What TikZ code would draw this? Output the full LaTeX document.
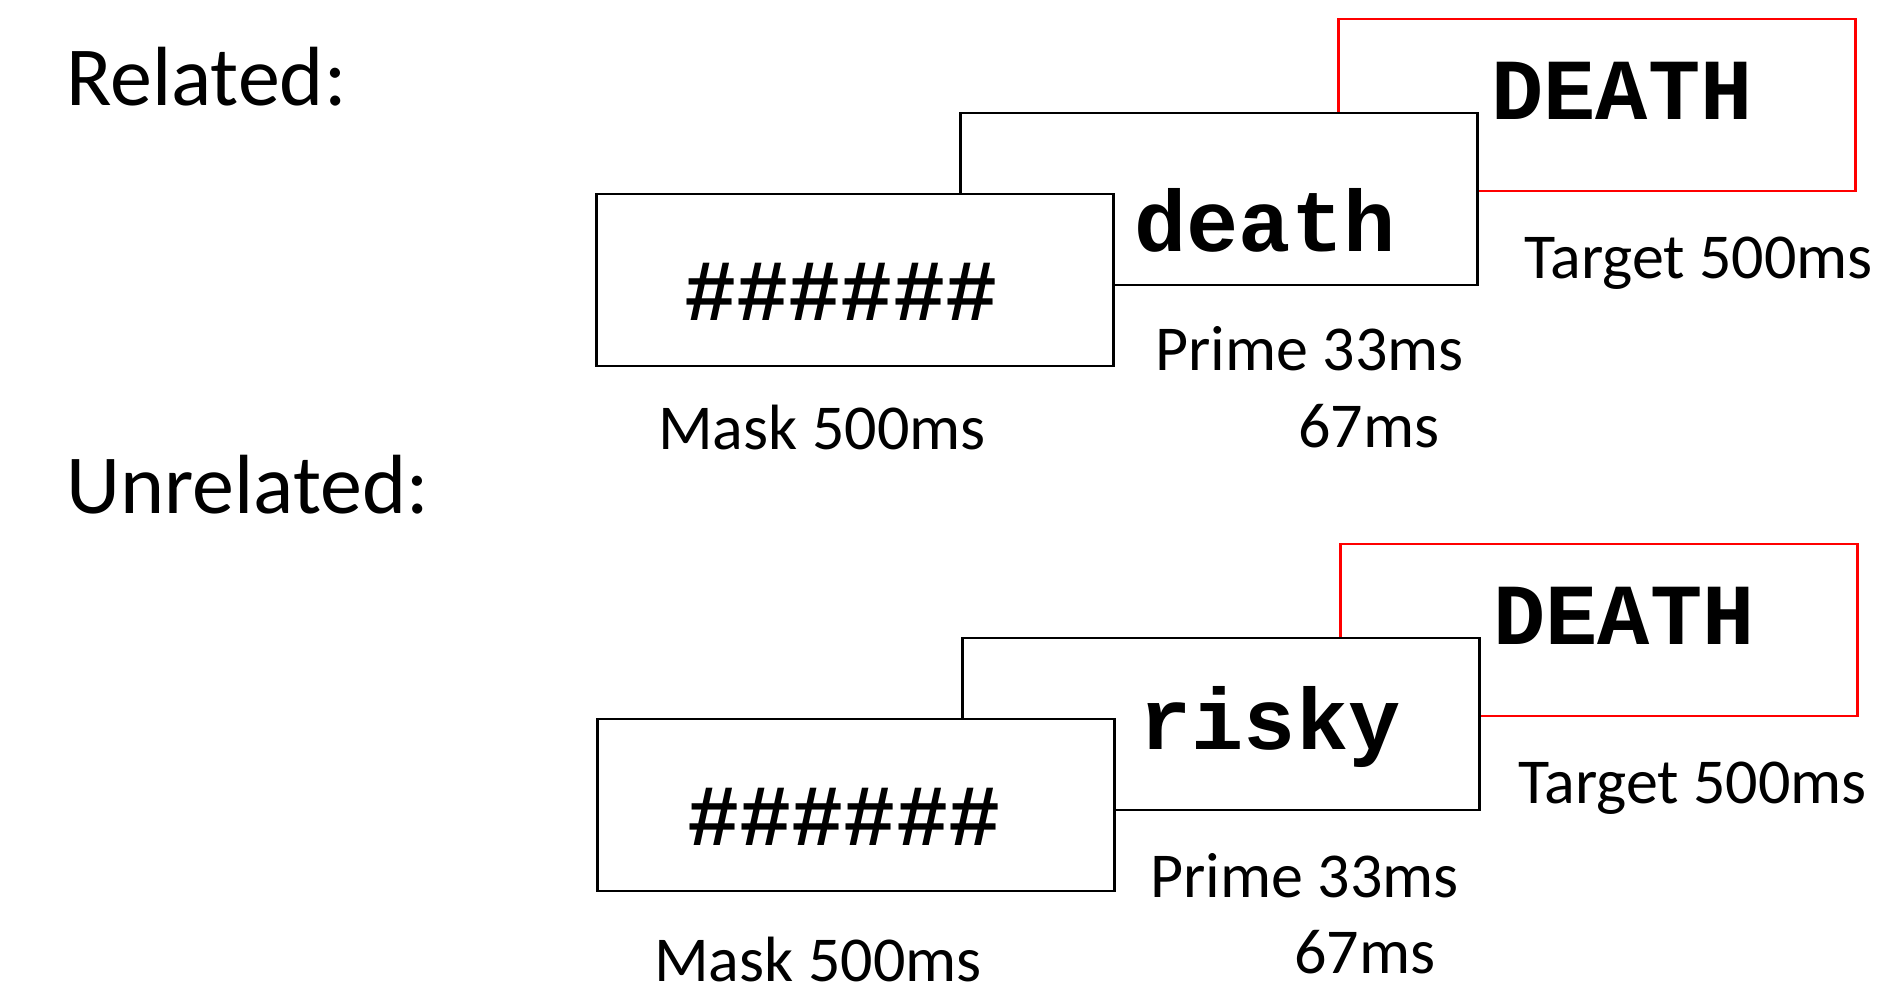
\documentclass[tikz,border=0pt]{standalone}
\usepackage{fontspec}
\setmainfont{Carlito}
\newfontfamily\courbold{Liberation Mono}
\begin{document}
\begin{tikzpicture}[x=1pt,y=-1pt,
  frame/.style={draw=black,line width=2.2pt,fill=white,minimum width=517pt,minimum height=172pt,inner sep=0pt},
  targetframe/.style={frame,draw=red},
  stim/.style={font=\courbold\bfseries\fontsize{87}{87}\selectfont,inner sep=0pt,anchor=base},
  lbl/.style={font=\fontsize{64}{64}\selectfont,inner sep=0pt,anchor=base west},
  heading/.style={font=\fontsize{84}{84}\selectfont,inner sep=0pt,anchor=base west}]
\useasboundingbox (0,0) rectangle (1883,991);

% headings
\node[heading] (hrel) at (66,105) {Related:};
\node[heading] (hunrel) at (66,513) {Unrelated:};

% related trial: target, prime, mask (back to front)
\node[targetframe] (t1) at (1597,105) {};
\node[stim] (t1txt) at (1622,119) {DEATH};
\node[frame] (p1) at (1219,199) {};
\node[stim] (p1txt) at (1265,251) {death};
\node[frame] (m1) at (855,280) {};
\node[stim] (m1txt) at (841,320) {\#\#\#\#\#\#};
\node[lbl] (t1lbl) at (1524,278) {Target 500ms};
\node[lbl] (p1lbl) at (1155,370) {Prime 33ms};
\node[lbl] (p1lblb) at (1298,447) {67ms};
\node[lbl] (m1lbl) at (658,449) {Mask 500ms};

% unrelated trial
\node[targetframe] (t2) at (1599,630) {};
\node[stim] (t2txt) at (1624,644) {DEATH};
\node[frame] (p2) at (1221,724) {};
\node[stim] (p2txt) at (1270,749) {risky};
\node[frame] (m2) at (856,805) {};
\node[stim] (m2txt) at (844,845) {\#\#\#\#\#\#};
\node[lbl] (t2lbl) at (1518,803) {Target 500ms};
\node[lbl] (p2lbl) at (1150,897) {Prime 33ms};
\node[lbl] (p2lblb) at (1294,973) {67ms};
\node[lbl] (m2lbl) at (654,981) {Mask 500ms};
\end{tikzpicture}
\end{document}
